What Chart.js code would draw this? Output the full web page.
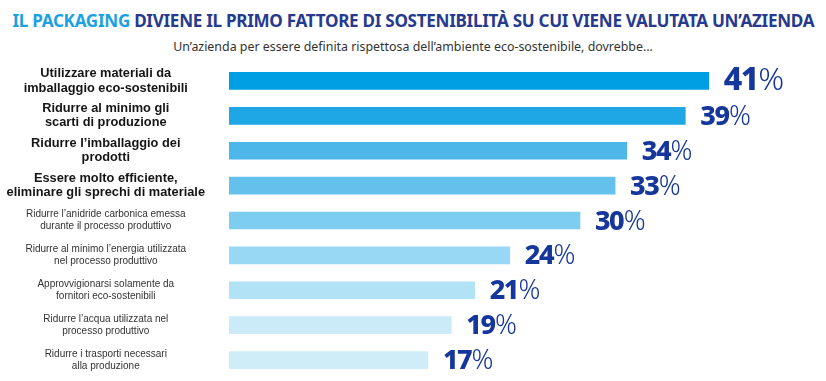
<!DOCTYPE html>
<html lang="it">
<head>
<meta charset="UTF-8">
<title>Packaging e sostenibilità</title>
<script src="https://cdn.jsdelivr.net/npm/chart.js"></script>
<style>
    html, body { margin: 0; padding: 0; background: #fff; }
    body { width: 826px; height: 381px; position: relative; overflow: hidden; font-family: 'Noto Sans', sans-serif; }
    #title {
        position: absolute; top: 9px; left: 0; width: 826px; text-align: center;
        white-space: nowrap; font-weight: 700; font-size: 17px; color: #263a8e;
    }
    #title span.inner { display: inline-block; transform-origin: center; letter-spacing: -0.3px; }
    #title .hl { color: #1ba1e2; }
    #subtitle {
        position: absolute; top: 38px; left: 0; width: 826px; text-align: center;
        font-size: 12.4px; color: #333; white-space: nowrap;
    }
    #wrap { position: absolute; left: 0; top: 0; width: 826px; height: 381px; }
</style>
</head>
<body>
<div id="title"><span class="inner"><span class="hl">IL PACKAGING</span> DIVIENE IL PRIMO FATTORE DI SOSTENIBILITÀ SU CUI VIENE VALUTATA UN’AZIENDA</span></div>
<div id="subtitle">Un’azienda per essere definita rispettosa dell’ambiente eco-sostenibile, dovrebbe...</div>
<div id="wrap"><canvas id="chart"></canvas></div>
<script>
    // dati
    const categories = [
        ['Utilizzare materiali da', 'imballaggio eco-sostenibili'],
        ['Ridurre al minimo gli', 'scarti di produzione'],
        ['Ridurre l’imballaggio dei', 'prodotti'],
        ['Essere molto efficiente,', 'eliminare gli sprechi di materiale'],
        ['Ridurre l’anidride carbonica emessa', 'durante il processo produttivo'],
        ['Ridurre al minimo l’energia utilizzata', 'nel processo produttivo'],
        ['Approvvigionarsi solamente da', 'fornitori eco-sostenibili'],
        ['Ridurre l’acqua utilizzata nel', 'processo produttivo'],
        ['Ridurre i trasporti necessari', 'alla produzione']
    ];
    const values = [41, 39, 34, 33, 30, 24, 21, 19, 17];
    const barColors = ['#009fe3', '#1ea6e5', '#4db7e9', '#63c1ec', '#7dcdf0', '#98d8f4', '#b1e2f6', '#cbebf9', '#cfedf9'];
    const boldRows = 4;

    // scala il titolo per stare nella larghezza
    const inner = document.querySelector('#title .inner');
    inner.style.transform = 'scaleX(' + (802 / inner.offsetWidth) + ')';

    const valueLabels = {
        id: 'valueLabels',
        afterDatasetsDraw(chart) {
            const ctx = chart.ctx;
            const meta = chart.getDatasetMeta(0);
            ctx.save();
            ctx.fillStyle = '#15369a';
            ctx.textBaseline = 'alphabetic';
            ctx.textAlign = 'left';
            meta.data.forEach((bar, i) => {
                const size = i === 0 ? 32 : 27;
                let x = bar.x + 15;
                const y = bar.y + 9;
                ctx.letterSpacing = '-1.5px';
                ctx.font = '800 ' + size + 'px "Noto Sans"';
                const num = String(values[i]);
                ctx.fillText(num, x, y);
                x += ctx.measureText(num).width + 0.5;
                ctx.letterSpacing = '0px';
                ctx.font = '300 ' + size + 'px "Noto Sans"';
                ctx.fillText('%', x, y);
            });
            ctx.restore();
        }
    };

    new Chart(document.getElementById('chart'), {
        type: 'bar',
        data: {
            labels: categories,
            datasets: [{
                data: values,
                backgroundColor: barColors,
                barThickness: 17,
                borderWidth: 0
            }]
        },
        options: {
            indexAxis: 'y',
            responsive: true,
            maintainAspectRatio: false,
            animation: false,
            layout: { padding: { top: 63.5, bottom: 3.5, left: 0, right: 12 } },
            plugins: {
                legend: { display: false },
                tooltip: { enabled: false }
            },
            scales: {
                x: {
                    min: 0, max: 50,
                    display: false
                },
                y: {
                    grid: { display: false, drawTicks: false },
                    border: { display: false },
                    afterFit: s => { s.width = 229; s.paddingTop = 0; s.paddingBottom = 0; },
                    ticks: {
                        crossAlign: 'center',
                        padding: 24,
                        color: (c) => c.index < boldRows ? '#151515' : '#333',
                        font: (c) => c.index < boldRows
                            ? { family: 'Liberation Sans', size: 12.8, weight: '700', lineHeight: 1.1 }
                            : { family: 'Liberation Sans', size: 10, weight: '400', lineHeight: 1.2 }
                    }
                }
            }
        },
        plugins: [valueLabels]
    });
</script>
</body>
</html>
